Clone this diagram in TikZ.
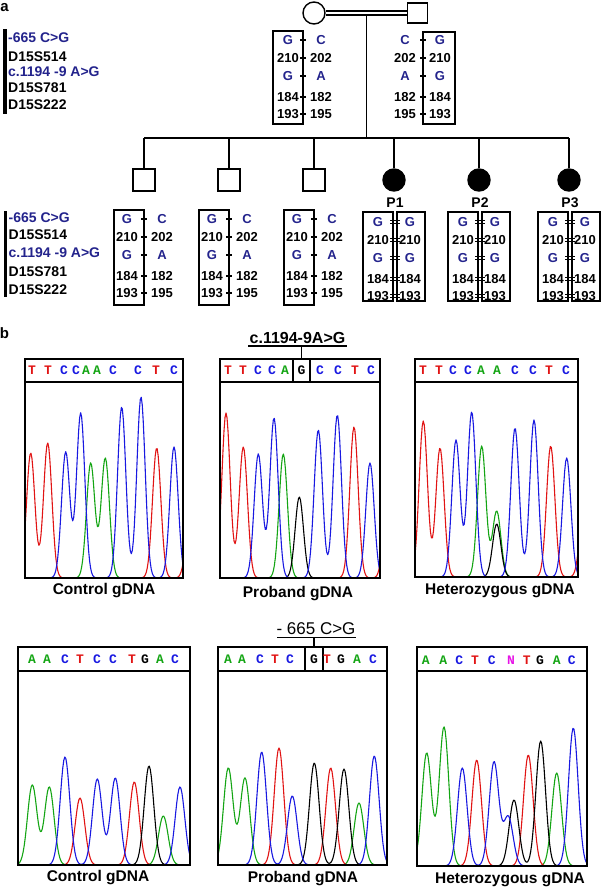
\documentclass[tikz,border=0pt]{standalone}
\usepackage{fontspec}
\setmainfont{Liberation Sans}
\newfontfamily\seqfont{Liberation Mono}
\definecolor{navy}{RGB}{35,35,140}
\definecolor{tred}{RGB}{225,20,20}
\definecolor{tblue}{RGB}{25,25,225}
\definecolor{tgreen}{RGB}{20,165,20}
\definecolor{tmag}{RGB}{230,20,230}
\pgfmathdeclarefunction{peaka}{2}{\pgfmathparse{exp(-min(((#1-#2)/5.9)^2,9))}}
\pgfmathdeclarefunction{peakb}{2}{\pgfmathparse{exp(-min(((#1-#2)/6.8)^2,9))}}
\newcommand\hapGG[3]{%
 \node[haps] (#1-1) at (#2,#3) {G};
 \node[hap] (#1-2) at (#2,#3+18) {210};
 \node[haps] (#1-3) at (#2,#3+36) {G};
 \node[hap] (#1-4) at (#2,#3+57) {184};
 \node[hap] (#1-5) at (#2,#3+74) {193};}
\newcommand\hapCA[3]{%
 \node[haps] (#1-1) at (#2,#3) {C};
 \node[hap] (#1-2) at (#2,#3+18) {202};
 \node[haps] (#1-3) at (#2,#3+36) {A};
 \node[hap] (#1-4) at (#2,#3+57) {182};
 \node[hap] (#1-5) at (#2,#3+74) {195};}
\newcommand\hticks[2]{\foreach \rr in {0,18,36,57,74} \draw[tick] (#1-3,#2+\rr) -- (#1+3,#2+\rr);}
\newcommand\dticks[2]{\foreach \rr in {0,18,36,57,74} {\draw[tick] (#1-5,#2+\rr-1.6) -- (#1+5,#2+\rr-1.6); \draw[tick] (#1-5,#2+\rr+1.6) -- (#1+5,#2+\rr+1.6);}}
\newcommand\seqrow[3]{\foreach \ch/\xx/\cc [count=\i] in {#3} \node[seq,text=\cc] (#1-\i) at (\xx,#2) {\ch};}
\begin{document}
\begin{tikzpicture}[x=1pt,y=-1pt,
 lbl/.style={font=\bfseries\fontsize{14}{16}\selectfont, anchor=west, inner sep=0},
 lblb/.style={lbl, text=navy},
 hap/.style={font=\bfseries\fontsize{13}{15}\selectfont, inner sep=0},
 haps/.style={hap, text=navy},
 ped/.style={line width=1.4},
 sq/.style={draw, line width=1.4, minimum size=22, inner sep=0, fill=white},
 circ/.style={draw, circle, line width=1.4, minimum size=22, inner sep=0, fill=white},
 aff/.style={circ, fill=black},
 hbox/.style={line width=1.3},
 tick/.style={line width=1.1},
 frame/.style={line width=1.3},
 trace/.style={line width=1.1, line join=round},
 seq/.style={font=\seqfont\bfseries\fontsize{13}{15}\selectfont, inner sep=0},
 capt/.style={font=\bfseries\fontsize{15.5}{17}\selectfont, inner sep=0},
 plbl/.style={font=\bfseries\fontsize{14}{16}\selectfont, inner sep=0},
 panel/.style={font=\bfseries\fontsize{15}{17}\selectfont, inner sep=0},
 ttl/.style={font=\bfseries\fontsize{16}{18}\selectfont, inner sep=0, anchor=base},
 ttlb/.style={font=\fontsize{17}{19}\selectfont, inner sep=0, anchor=base},
 uline/.style={line width=1.2}]
\useasboundingbox (0,0) rectangle (605,889);
% ---------------- panel a ----------------
\node[panel, anchor=base] (la) at (4.5,11) {a};
% pedigree
\node[circ] (mother) at (314,13) {};
\node[sq, minimum size=20] (father) at (417.5,13) {};
\draw[ped, double, double distance=2.6] (mother) -- (father);
\coordinate (mar) at (366.7,15.5);
\coordinate (sib) at (366.7,138);
\draw[ped] (mar) -- (sib);
\node[sq] (c1) at (144,180) {};
\node[sq] (c2) at (229,180) {};
\node[sq] (c3) at (314,180) {};
\node[aff] (p1) at (394,180) {};
\node[aff] (p2) at (479,180) {};
\node[aff] (p3) at (569,180) {};
\draw[ped] (c1 |- sib) -- (p3 |- sib);
\foreach \n in {c1,c2,c3,p1,p2,p3} \draw[ped] (\n) -- (\n |- sib);
\node[plbl] (p1l) at (395,203) {P1};
\node[plbl] (p2l) at (480,203) {P2};
\node[plbl] (p3l) at (570,203) {P3};
% left labels top
\draw[line width=3.5] (5,29) -- (5,114);
\node[lblb] (lt1) at (8,38) {-665 C>G};
\node[lbl] (lt2) at (8,57) {D15S514};
\node[lblb] (lt3) at (8,72) {c.1194 -9 A>G};
\node[lbl] (lt4) at (8,88) {D15S781};
\node[lbl] (lt5) at (8,105) {D15S222};
% left labels bottom
\draw[line width=3.5] (5.5,211) -- (5.5,297);
\node[lblb] (lb1) at (8.5,218) {-665 C>G};
\node[lbl] (lb2) at (8.5,235) {D15S514};
\node[lblb] (lb3) at (8.5,253) {c.1194 -9 A>G};
\node[lbl] (lb4) at (8.5,272) {D15S781};
\node[lbl] (lb5) at (8.5,290) {D15S222};
% parents haplotypes
\draw[hbox] (273,31) rectangle (303,124);
\hticks{303}{40}
\hapGG{mL}{288}{40}
\hapCA{mR}{321}{40}
\draw[hbox] (423,32) rectangle (455,124);
\hticks{423}{40}
\hapCA{fL}{405}{40}
\hapGG{fR}{440}{40}
% unaffected children
\foreach \xd/\k in {144/1,229/2,314/3} {
  \draw[hbox] (\xd-30,210) rectangle (\xd,305);
  \hticks{\xd}{219}
  \hapGG{c\k L}{\xd-17}{219}
  \hapCA{c\k R}{\xd+18}{219}
}
% affected
\foreach \g/\k in {395/1,480/2,570/3} {
  \draw[hbox] (\g-32,212) rectangle (\g-2,301);
  \draw[hbox] (\g+2,212) rectangle (\g+30,301);
  \dticks{\g}{222}
  \hapGG{p\k L}{\g-17}{222}
  \hapGG{p\k R}{\g+15}{222}
}
% ---------------- panel b ----------------
\node[panel, anchor=base] (lbb) at (4.5,338) {b};
% titles
\node[ttl] (t1) at (297.5,343) {c.1194-9A>G};
\coordinate (u1a) at (248,346);
\coordinate (u1b) at (347,346);
\coordinate (g1) at (301.5,359);
\draw[uline] (u1a) -- (u1b);
\draw[uline] (g1 |- u1a) -- (g1);
\node[ttlb] (t2) at (316,634) {- 665 C>G};
\coordinate (u2a) at (277,637.5);
\coordinate (u2b) at (356,637.5);
\coordinate (g2) at (314,647);
\draw[uline] (u2a) -- (u2b);
\draw[uline] (g2 |- u2a) -- (g2);
% ---- panel 1
\begin{scope}
\clip (25,382) rectangle (183,578);
\draw[trace,tred] plot[domain=25:183,samples=160] (\x,{578-125*peaka(\x,30.7)-135*peaka(\x,47.7)-130*peaka(\x,156.7)-60*peaka(\x,190)});
\draw[trace,tgreen] plot[domain=25:183,samples=160] (\x,{578-115*peaka(\x,90.7)-120*peaka(\x,105.3)});
\draw[trace,tblue] plot[domain=25:183,samples=160] (\x,{578-126*peaka(\x,65.7)-165*peaka(\x,80.7)-171*peaka(\x,121.7)-181*peaka(\x,141)-131*peaka(\x,174)});
\end{scope}
\draw[frame] (25,359) rectangle (183,578);
\draw[frame] (25,382) -- (183,382);
\seqrow{s1}{370.5}{T/32/tred,T/48/tred,C/64/tblue,C/76/tblue,A/86/tgreen,A/97/tgreen,C/113/tblue,C/138/tblue,T/156/tred,C/174/tblue}
\node[capt] (cap1) at (104,591) {Control gDNA};
% ---- panel 2
\begin{scope}
\clip (220,382) rectangle (380,578);
\draw[trace,tred] plot[domain=220:380,samples=160] (\x,{578-165*peaka(\x,226)-131*peaka(\x,243.3)-151*peaka(\x,354)-90*peaka(\x,388)});
\draw[trace,tgreen] plot[domain=220:380,samples=160] (\x,{578-124*peaka(\x,283.3)});
\draw[trace,black] plot[domain=220:380,samples=160] (\x,{578-81*peaka(\x,299.3)});
\draw[trace,tblue] plot[domain=220:380,samples=160] (\x,{578-124*peaka(\x,258.3)-160*peaka(\x,274)-148*peaka(\x,318.3)-163*peaka(\x,337.3)-115*peaka(\x,370)});
\end{scope}
\draw[frame] (220,359) rectangle (380,578);
\draw[frame] (220,382) -- (380,382);
\draw[frame] (293,359) -- (293,382);
\draw[frame] (310,359) -- (310,382);
\seqrow{s2}{370.5}{T/228/tred,T/243/tred,C/258/tblue,C/272/tblue,A/285/tgreen,G/301.5/black,C/320/tblue,C/338/tblue,T/355/tred,C/371/tblue}
\node[capt] (cap2) at (298,594) {Proband gDNA};
% ---- panel 3
\begin{scope}
\clip (415,382) rectangle (578,577);
\draw[trace,tred] plot[domain=415:578,samples=160] (\x,{577-156*peaka(\x,423.3)-129*peaka(\x,440)-131*peaka(\x,550.7)-70*peaka(\x,584)});
\draw[trace,tgreen] plot[domain=415:578,samples=160] (\x,{577-131*peaka(\x,481.7)-66*peaka(\x,496.7)});
\draw[trace,black] plot[domain=415:578,samples=160] (\x,{577-53*peaka(\x,496.7)});
\draw[trace,tblue] plot[domain=415:578,samples=160] (\x,{577-137*peaka(\x,456)-165*peaka(\x,471.7)-149*peaka(\x,515)-157*peaka(\x,534)-119*peaka(\x,566.7)});
\end{scope}
\draw[frame] (415,359) rectangle (578,577);
\draw[frame] (415,382) -- (578,382);
\seqrow{s3}{370.5}{T/423/tred,T/439/tred,C/453/tblue,C/468/tblue,A/481/tgreen,A/497/tgreen,C/515/tblue,C/533/tblue,T/549/tred,C/566/tblue}
\node[capt] (cap3) at (500,591) {Heterozygous gDNA};
% ---- panel 4
\begin{scope}
\clip (18,671) rectangle (190,865);
\draw[trace,tgreen] plot[domain=18:190,samples=170] (\x,{865-80*peakb(\x,32.3)-78*peakb(\x,49.3)-49*peakb(\x,163.3)});
\draw[trace,tred] plot[domain=18:190,samples=170] (\x,{865-67*peakb(\x,80)-83*peakb(\x,134.3)});
\draw[trace,black] plot[domain=18:190,samples=170] (\x,{865-99*peakb(\x,149)});
\draw[trace,tblue] plot[domain=18:190,samples=170] (\x,{865-108*peakb(\x,65)-86*peakb(\x,97.3)-87*peakb(\x,115.3)-78*peakb(\x,180)});
\end{scope}
\draw[frame] (18,647) rectangle (190,865);
\draw[frame] (18,671) -- (190,671);
\seqrow{s4}{659.5}{A/32/tgreen,A/47/tgreen,C/65/tblue,T/80/tred,C/97/tblue,C/113/tblue,T/132/tred,G/145/black,A/160/tgreen,C/175/tblue}
\node[capt] (cap4) at (98,878) {Control gDNA};
% ---- panel 5
\begin{scope}
\clip (218,671) rectangle (387,865);
\draw[trace,tgreen] plot[domain=218:387,samples=170] (\x,{865-97*peakb(\x,228.3)-87*peakb(\x,245)-62*peakb(\x,359)});
\draw[trace,tred] plot[domain=218:387,samples=170] (\x,{865-117*peakb(\x,279)-97*peakb(\x,330.7)});
\draw[trace,black] plot[domain=218:387,samples=170] (\x,{865-102*peakb(\x,314.3)-96*peakb(\x,344)});
\draw[trace,tblue] plot[domain=218:387,samples=170] (\x,{865-113*peakb(\x,261.7)-69*peakb(\x,292.3)-109*peakb(\x,374.3)});
\end{scope}
\draw[frame] (218,647) rectangle (387,865);
\draw[frame] (218,671) -- (387,671);
\draw[frame] (305,647) -- (305,671);
\draw[frame] (323,647) -- (323,671);
\seqrow{s5}{659.5}{A/228/tgreen,A/242/tgreen,C/260/tblue,T/275/tred,C/290/tblue,G/314/black,T/327/tred,G/341/black,A/357/tgreen,C/373/tblue}
\node[capt] (cap5) at (303,879) {Proband gDNA};
% ---- panel 6
\begin{scope}
\clip (417,671) rectangle (587,866);
\draw[trace,tgreen] plot[domain=417:587,samples=170] (\x,{866-113*peakb(\x,426.7)-139*peakb(\x,444)-93*peakb(\x,556.7)-40*peakb(\x,405)});
\draw[trace,tred] plot[domain=417:587,samples=170] (\x,{866-106*peakb(\x,476.7)-111*peakb(\x,528.3)});
\draw[trace,black] plot[domain=417:587,samples=170] (\x,{866-66*peakb(\x,514)-125*peakb(\x,540.7)});
\draw[trace,tblue] plot[domain=417:587,samples=170] (\x,{866-98*peakb(\x,462.3)-104*peakb(\x,494)-49*peakb(\x,508.3)-138*peakb(\x,573.3)});
\end{scope}
\draw[frame] (417,647) rectangle (587,866);
\draw[frame] (417,671) -- (587,671);
\seqrow{s6}{660}{A/425.7/tgreen,A/443.3/tgreen,C/459.3/tblue,T/475/tred,C/491.7/tblue,N/511/tmag,T/526.7/tred,G/540/black,A/556.7/tgreen,C/571.7/tblue}
\node[capt] (cap6) at (510,880) {Heterozygous gDNA};
\end{tikzpicture}
\end{document}
